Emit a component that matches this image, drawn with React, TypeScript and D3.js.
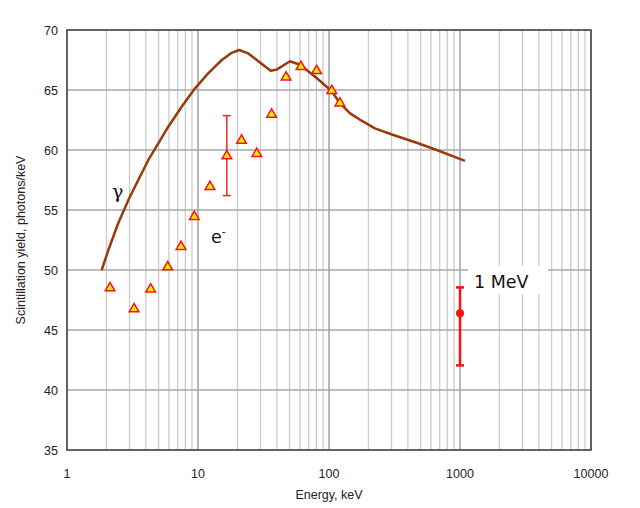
import * as d3 from "d3";
import React, { RefObject, useEffect, useRef } from "react";

// gamma response curve (energy keV, photons/keV)
const gammaE = [1.84, 2.07, 2.46, 2.94, 3.5, 4.18, 4.98, 5.93, 7.5, 9.49, 12.0, 15.2, 18.1, 20.6, 24.2, 29.7, 35.9, 39.8, 50.4, 60.1, 80.5, 105, 121, 145, 180, 224, 310, 467, 664, 1092];
const gammaY = [50.0, 51.67, 53.9, 55.83, 57.5, 59.17, 60.56, 61.94, 63.6, 65.14, 66.4, 67.5, 68.1, 68.33, 68.05, 67.3, 66.6, 66.7, 67.4, 67.1, 66.0, 64.9, 63.9, 63.05, 62.4, 61.8, 61.25, 60.6, 60.0, 59.1];

// electron points
const elecE = [2.13, 3.25, 4.35, 5.87, 7.42, 9.37, 12.35, 16.6, 21.5, 28.1, 36.5, 47, 61.1, 80.5, 105, 121];
const elecY = [48.5, 46.75, 48.4, 50.25, 51.95, 54.45, 56.95, 59.5, 60.8, 59.7, 62.97, 66.06, 66.94, 66.6, 64.94, 63.9];

// error bar on the electron point at 16.6 keV
const elecErr = { e: 16.6, lo: 56.2, hi: 62.86 };

// 1 MeV point
const mevPoint = { e: 1000, y: 46.4, lo: 42.05, hi: 48.55 };

const xTicks = [1, 10, 100, 1000, 10000];
const yTicks = [35, 40, 45, 50, 55, 60, 65, 70];

const Chart = () => {
  const d3Ref: RefObject<HTMLDivElement> = useRef(null);
  const width = 640;
  const height = 508;
  const margin = { top: 30, right: 49, bottom: 58, left: 67 };

  useEffect(() => {
    d3.select(d3Ref.current).selectAll("*").remove();
    const svg = d3
      .select(d3Ref.current)
      .append("svg")
      .attr("width", width)
      .attr("height", height)
      .style("position", "absolute")
      .style("left", "0px")
      .style("top", "0px")
      .style("font-family", "'Liberation Sans', Arial, sans-serif");

    svg.append("rect").attr("width", width).attr("height", height).attr("fill", "white");

    const x = d3.scaleLog().domain([1, 10000]).range([margin.left, width - margin.right]);
    const y = d3.scaleLinear().domain([35, 70]).range([height - margin.bottom, margin.top]);

    // minor vertical grid
    const minor: number[] = [];
    for (let dec = 1; dec < 10000; dec *= 10) {
      for (let k = 2; k <= 9; k++) minor.push(dec * k);
    }
    svg
      .append("g")
      .selectAll("line")
      .data(minor)
      .enter()
      .append("line")
      .attr("x1", (d) => x(d))
      .attr("x2", (d) => x(d))
      .attr("y1", y(35))
      .attr("y2", y(70))
      .attr("stroke", "#cccccc")
      .attr("stroke-width", 1.3);

    // horizontal grid
    svg
      .append("g")
      .selectAll("line")
      .data(yTicks)
      .enter()
      .append("line")
      .attr("x1", x(1))
      .attr("x2", x(10000))
      .attr("y1", (d) => y(d))
      .attr("y2", (d) => y(d))
      .attr("stroke", "#a8a8a8")
      .attr("stroke-width", 1.3);

    // decade lines
    svg
      .append("g")
      .selectAll("line")
      .data(xTicks)
      .enter()
      .append("line")
      .attr("x1", (d) => x(d))
      .attr("x2", (d) => x(d))
      .attr("y1", y(35))
      .attr("y2", y(70))
      .attr("stroke", "#a0a0a0")
      .attr("stroke-width", 1.5);

    // frame
    svg
      .append("rect")
      .attr("x", x(1))
      .attr("y", y(70))
      .attr("width", x(10000) - x(1))
      .attr("height", y(35) - y(70))
      .attr("fill", "none")
      .attr("stroke", "#444444")
      .attr("stroke-width", 1.5);

    // tick labels
    svg
      .append("g")
      .selectAll("text")
      .data(yTicks)
      .enter()
      .append("text")
      .attr("x", x(1) - 9)
      .attr("y", (d) => y(d) + 4.5)
      .attr("text-anchor", "end")
      .attr("font-size", 12.5)
      .attr("fill", "#222")
      .text((d) => String(d));

    svg
      .append("g")
      .selectAll("text")
      .data(xTicks)
      .enter()
      .append("text")
      .attr("x", (d) => x(d))
      .attr("y", y(35) + 28)
      .attr("text-anchor", "middle")
      .attr("font-size", 12.5)
      .attr("fill", "#222")
      .text((d) => String(d));

    svg
      .append("text")
      .attr("x", (x(1) + x(10000)) / 2)
      .attr("y", 499)
      .attr("text-anchor", "middle")
      .attr("font-size", 12.5)
      .attr("fill", "#222")
      .text("Energy, keV");

    svg
      .append("text")
      .attr("transform", `translate(25, ${(y(35) + y(70)) / 2}) rotate(-90)`)
      .attr("text-anchor", "middle")
      .attr("font-size", 12.5)
      .attr("fill", "#222")
      .text("Scintillation yield, photons/keV");

    // gamma curve
    const line = d3
      .line<number>()
      .x((d) => x(gammaE[d]))
      .y((d) => y(gammaY[d]))
      .curve(d3.curveLinear);
    svg
      .append("path")
      .attr("d", line(d3.range(gammaE.length)))
      .attr("fill", "none")
      .attr("stroke", "#9a3a0a")
      .attr("stroke-width", 2.5)
      .attr("stroke-linejoin", "round");

    // error bar on electron point
    const eb = svg.append("g").attr("stroke", "#ff2020").attr("stroke-width", 1.5);
    eb.append("line")
      .attr("x1", x(elecErr.e)).attr("x2", x(elecErr.e))
      .attr("y1", y(elecErr.lo)).attr("y2", y(elecErr.hi));
    [elecErr.lo, elecErr.hi].forEach((v) => {
      eb.append("line")
        .attr("x1", x(elecErr.e) - 4).attr("x2", x(elecErr.e) + 4)
        .attr("y1", y(v)).attr("y2", y(v));
    });

    // electron triangles
    const tri = d3.symbol().type(d3.symbolTriangle).size(40);
    svg
      .append("g")
      .selectAll("path")
      .data(d3.range(elecE.length))
      .enter()
      .append("path")
      .attr("d", tri)
      .attr("transform", (i) => `translate(${x(elecE[i])}, ${y(elecY[i])})`)
      .attr("fill", "#ffee00")
      .attr("stroke", "#ff1010")
      .attr("stroke-width", 1.5);

    // 1 MeV label box
    svg
      .append("rect")
      .attr("x", 468)
      .attr("y", 266)
      .attr("width", 80)
      .attr("height", 28)
      .attr("fill", "white");
    svg
      .append("text")
      .attr("x", 474)
      .attr("y", 288)
      .attr("font-family", "'DejaVu Sans', Verdana, sans-serif")
      .attr("font-size", 17.5)
      .attr("fill", "#111")
      .text("1 MeV");

    // 1 MeV point
    const mg = svg.append("g").attr("stroke", "#ff1010").attr("stroke-width", 2.5);
    mg.append("line")
      .attr("x1", x(mevPoint.e)).attr("x2", x(mevPoint.e))
      .attr("y1", y(mevPoint.lo)).attr("y2", y(mevPoint.hi));
    [mevPoint.lo, mevPoint.hi].forEach((v) => {
      mg.append("line")
        .attr("x1", x(mevPoint.e) - 4).attr("x2", x(mevPoint.e) + 4)
        .attr("y1", y(v)).attr("y2", y(v));
    });
    svg
      .append("circle")
      .attr("cx", x(mevPoint.e))
      .attr("cy", y(mevPoint.y))
      .attr("r", 4)
      .attr("fill", "#ff1010");

    // labels
    svg
      .append("text")
      .attr("x", 112)
      .attr("y", 198)
      .attr("font-family", "'DejaVu Serif', serif")
      .attr("font-size", 19)
      .attr("fill", "#111")
      .text("γ");

    const eLabel = svg
      .append("text")
      .attr("x", 211)
      .attr("y", 243)
      .attr("font-family", "'DejaVu Sans', Verdana, sans-serif")
      .attr("font-size", 17.5)
      .attr("fill", "#111");
    eLabel.append("tspan").text("e");
    eLabel.append("tspan").attr("font-size", 11).attr("dy", -8).text("-");
  }, [d3Ref]);

  return <div ref={d3Ref} />;
};

export default function App() {
  return <Chart />;
}
